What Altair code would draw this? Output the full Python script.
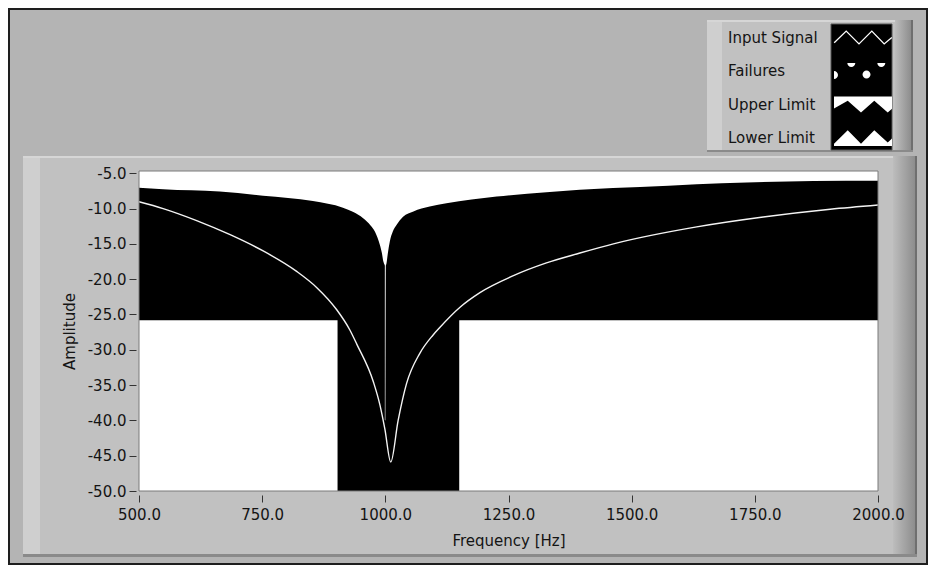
import altair as alt
import pandas as pd

# ---------------- data ----------------
series_names = ["Input Signal", "Failures", "Upper Limit", "Lower Limit"]

signal_freq = [500, 549, 617, 685, 752, 820, 861, 901, 928, 942, 976, 989, 999,
               1011, 1026, 1043, 1070, 1097, 1111, 1151, 1192, 1260, 1327, 1395, 1463,
               1632, 1767, 1903, 2000]
signal_amp = [-9.03, -10.0, -11.7, -13.7, -16.0, -18.9, -21.2, -24.3, -27.2, -29.2,
              -34.6, -37.8, -41.2, -45.9, -40.0, -34.8, -30.5, -27.9, -26.8, -24.0,
              -21.9, -19.5, -17.7, -16.3, -15.0, -12.6, -11.2, -10.1, -9.5]

upper_freq = [500, 549, 664, 752, 853, 914, 935, 955, 970, 979, 984, 989, 993, 996, 998,
              999, 1000, 1001, 1002, 1005, 1009, 1015, 1023, 1036, 1057, 1090, 1124, 1226,
              1327, 1462, 1517, 1632, 1733, 1868, 2000]
upper_amp = [-7.04, -7.27, -7.6, -8.18, -8.93, -9.88, -10.5, -11.38, -12.4, -13.28, -14.1,
             -15.17, -16.3, -17.5, -17.9, -18.1, -40.0, -18.1, -17.9, -16.4, -14.7, -13.3,
             -12.3, -11.15, -10.4, -9.7, -9.25, -8.3, -7.7, -7.1, -6.95, -6.55, -6.3, -6.1,
             -6.05]

lower_freq = [500, 903, 1150, 2000]
lower_amp = [-25.8, -50.0, -25.8, -25.8]

failures_freq = []
failures_amp = []

x_ticks = [500, 750, 1000, 1250, 1500, 1750, 2000]
y_ticks = [-5, -10, -15, -20, -25, -30, -35, -40, -45, -50]
x_domain = [500, 2000]
y_domain = [-50, -4.68]

signal_df = pd.DataFrame({"freq": signal_freq, "amp": signal_amp})
upper_df = pd.DataFrame({"freq": upper_freq, "amp": upper_amp})
lower_df = pd.DataFrame({"freq": lower_freq, "amp": lower_amp})
fail_df = pd.DataFrame({"freq": pd.Series(failures_freq, dtype=float),
                        "amp": pd.Series(failures_amp, dtype=float),
                        "series": pd.Series([], dtype=str)})

# legend glyphs (unit coordinates of custom symbols); the leading moves fix the bounds
BOX = "M-3.625,-1M3.625,1"
glyph_input = BOX + "M-3.6,0.65L-2.1,-0.8L-0.5,0.8L1.1,-0.8L2.65,0.8L3.6,0"
glyph_fail = (BOX + "M-1.96,-1A0.5,0.5 0 0 0 -0.96,-1Z"
              "M1.79,-1A0.5,0.5 0 0 0 2.79,-1Z"
              "M-0.06,0.45A0.5,0.5 0 1 0 0.94,0.45A0.5,0.5 0 1 0 -0.06,0.45Z"
              "M-3.625,0.0A0.5,0.5 0 0 1 -3.625,1.0Z")
glyph_upper = BOX + "M-3.625,-1L3.625,-1L3.625,0.53L3.09,1L1.41,-0.46L-0.25,1L-1.91,-0.46L-3.625,0.5Z"
glyph_lower = BOX + "M-3.625,1L-3.625,0.71L-1.91,-0.96L-0.25,0.71L1.41,-0.96L3.09,0.55L3.625,0.05L3.625,1Z"

FONT = "DejaVu Sans"
TXT = "#141414"
MINUS = "\u2212"

XS = alt.Scale(domain=x_domain, nice=False, zero=False)
YS = alt.Scale(domain=y_domain, nice=False, zero=False)

XAX = alt.Axis(values=x_ticks, format=".1f",
               labelExpr=f"replace(datum.label, '{MINUS}', '-')",
               domain=False, grid=False, tickSize=7, tickColor="#333333", tickWidth=1,
               offset=4, labelPadding=5, labelFlush=False, labelFont=FONT, labelFontSize=15,
               labelColor=TXT, titleFont=FONT, titleFontSize=15, titleFontWeight="normal",
               titleColor=TXT, titlePadding=11, zindex=1)
YAX = alt.Axis(values=y_ticks, format=".1f",
               labelExpr=f"replace(datum.label, '{MINUS}', '-')",
               domain=False, grid=False, tickSize=7, tickColor="#333333", tickWidth=1,
               offset=3, labelPadding=3, labelFlush=False, labelFont=FONT, labelFontSize=15,
               labelColor=TXT, titleFont=FONT, titleFontSize=15, titleFontWeight="normal",
               titleColor=TXT, titlePadding=10, zindex=1)

XT = "Frequency [Hz]"
YT = "Amplitude"


def xf(field):
    return alt.X(field, type="quantitative", scale=XS, axis=XAX, title=XT)


def yf(field):
    return alt.Y(field, type="quantitative", scale=YS, axis=YAX, title=YT)


def xd(v):
    return alt.X(datum=v, type="quantitative", scale=XS, axis=XAX, title=XT)


def yd(v):
    return alt.Y(datum=v, type="quantitative", scale=YS, axis=YAX, title=YT)


ONE = alt.Data(values=[{}])


def deco(x, x2, y, y2, **mk):
    return alt.Chart(ONE).mark_rect(**mk).encode(
        x=alt.value(x), x2=alt.value(x2), y=alt.value(y), y2=alt.value(y2))


def grad(c1, c2):
    return alt.LinearGradient(gradient="linear",
                              stops=[alt.GradientStop(color=c1, offset=0),
                                     alt.GradientStop(color=c2, offset=1)],
                              x1=0, x2=1, y1=0, y2=0)


decorations = [
    # main panel
    deco(-116, 778, -15, 386, fill="#c1c1c1"),
    deco(-116, -99, -15, 386, fill="#cfcfcf"),
    deco(-116, 778, -15, -13, fill="#d6d6d6"),
    deco(754, 776, -15, 386, fill=grad("#bdbdbd", "#8d8d8d")),
    deco(776, 778, -15, 386, fill="#6f6f6f"),
    deco(-116, 778, 383, 386, fill="#8a8a8a"),
    # legend panel
    deco(568, 774, -151, -19, fill="#c1c1c1"),
    deco(568, 583, -151, -19, fill="#cfcfcf"),
    deco(568, 774, -151, -149, fill="#d6d6d6"),
    deco(756, 772, -151, -19, fill=grad("#bdbdbd", "#8d8d8d")),
    deco(772, 774, -151, -19, fill="#6f6f6f"),
    deco(568, 774, -21, -19, fill="#8a8a8a"),
    # legend swatch column
    deco(692, 753, -147, -21, fill="#000000", stroke="#555555", strokeWidth=1),
    # outer border
    deco(-130, 788, -162, 393, fill="transparent", stroke="#1e1e1e", strokeWidth=2),
]

plot_bg = alt.Chart(ONE).mark_rect(fill="#000000").encode(
    x=xd(x_domain[0]), x2=alt.X2(datum=x_domain[1]),
    y=yd(y_domain[0]), y2=alt.Y2(datum=y_domain[1]))

upper_area = alt.Chart(upper_df).mark_area(fill="#ffffff", interpolate="monotone").encode(
    x=xf("freq"), y=yf("amp"), y2=alt.Y2(datum=y_domain[1]))

lower_area = alt.Chart(lower_df).mark_area(fill="#ffffff", interpolate="step-after").encode(
    x=xf("freq"), y=yf("amp"), y2=alt.Y2(datum=y_domain[0]))

signal_line = alt.Chart(signal_df).mark_line(color="#f4f4f4", strokeWidth=1.4,
                                             interpolate="monotone").encode(
    x=xf("freq"), y=yf("amp"))

LEG = alt.Legend(title=None, orient="none", legendX=566, legendY=-142.5,
                 symbolOffset=149, labelOffset=alt.ExprRef(expr="-144"), labelAlign="left",
                 rowPadding=11.5, padding=0, labelFont=FONT, labelFontSize=15, labelColor=TXT,
                 symbolSize=256, symbolStrokeWidth=1.3, symbolOpacity=1, zindex=1)

failures = alt.Chart(fail_df).mark_point(filled=True, size=256, strokeWidth=1.3,
                                         opacity=1).encode(
    x=xf("freq"), y=yf("amp"),
    shape=alt.Shape("series:N", scale=alt.Scale(domain=series_names,
                    range=[glyph_input, glyph_fail, glyph_upper, glyph_lower]), legend=LEG),
    fill=alt.Fill("series:N", scale=alt.Scale(domain=series_names,
                  range=["transparent", "#ffffff", "#ffffff", "#ffffff"]), legend=LEG),
    stroke=alt.Stroke("series:N", scale=alt.Scale(domain=series_names,
                      range=["#ffffff", "transparent", "transparent", "transparent"]), legend=LEG),
)

plot_frame = alt.Chart(ONE).mark_rect(fill="transparent", stroke="#7a7a7a", strokeWidth=1).encode(
    x=xd(x_domain[0]), x2=alt.X2(datum=x_domain[1]),
    y=yd(y_domain[0]), y2=alt.Y2(datum=y_domain[1]))

chart = alt.layer(*decorations, plot_bg, upper_area, lower_area, signal_line, failures,
                  plot_frame).properties(
    width=739, height=320,
    background="#b4b4b4",
    padding={"left": 131, "top": 163, "right": 50, "bottom": 74},
    autosize=alt.AutoSizeParams(type="none"),
).configure_view(stroke="transparent")

chart.save("out.html", embed_options={"renderer": "svg", "actions": False})
